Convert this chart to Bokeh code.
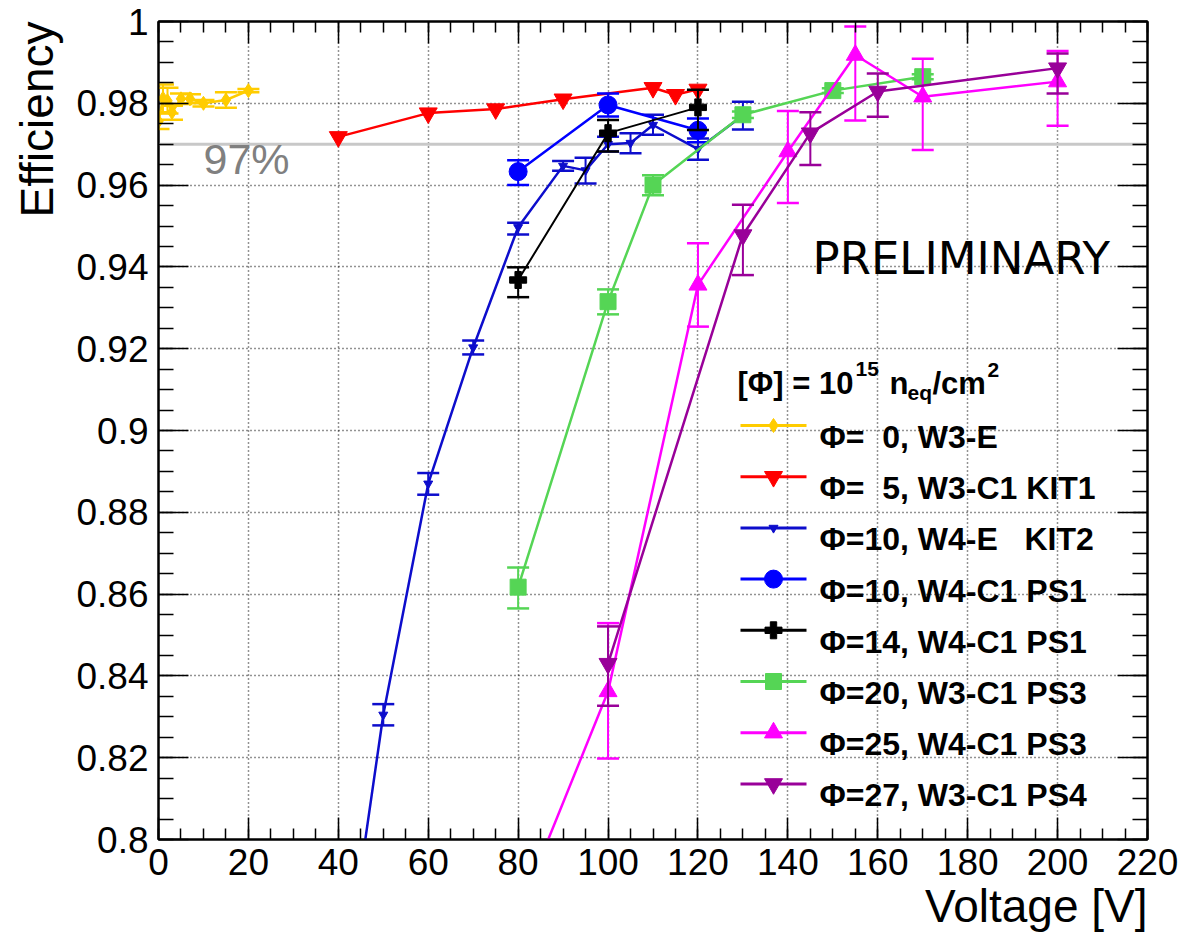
import math
from bokeh.plotting import figure
from bokeh.models import (Range1d, FixedTicker, CustomJSTickFormatter, LinearAxis,
                          Span, Label, Title, ColumnDataSource)
from bokeh.embed import file_html
from bokeh.resources import INLINE

# ---------------- data ----------------
v_phi0 = [0, 1, 2, 3, 5, 7, 10, 15, 20]
eff_phi0 = [0.9756, 0.9812, 0.9806, 0.9778, 0.9811, 0.9811, 0.9800, 0.9808, 0.9831]
lo_phi0 = [0.9737, 0.9778, 0.9775, 0.9760, 0.9798, 0.9800, 0.9792, 0.9789, 0.9827]
hi_phi0 = [0.9776, 0.9846, 0.9838, 0.9794, 0.9824, 0.9822, 0.9808, 0.9827, 0.9835]

v_phi5 = [40, 60, 75, 90, 110, 115, 120]
eff_phi5 = [0.9718, 0.9776, 0.9786, 0.9810, 0.9838, 0.9821, 0.9834]

v_kit2 = [40, 50, 60, 70, 80, 90, 95, 100, 105, 110, 120, 130]
eff_kit2 = [0.7542, 0.8305, 0.8870, 0.9203, 0.9497, 0.9647, 0.9636, 0.9700, 0.9703, 0.9747, 0.9688, 0.9770]
lo_kit2 = [0.7516, 0.8279, 0.8843, 0.9186, 0.9479, 0.9635, 0.9604, 0.9682, 0.9678, 0.9723, 0.9662, 0.9736]
hi_kit2 = [0.7568, 0.8331, 0.8896, 0.9220, 0.9508, 0.9659, 0.9667, 0.9718, 0.9727, 0.9772, 0.9714, 0.9804]

v_ps1a = [80, 100, 120]
eff_ps1a = [0.9633, 0.9796, 0.9734]
lo_ps1a = [0.9600, 0.9768, 0.9705]
hi_ps1a = [0.9661, 0.9824, 0.9763]

v_ps1b = [80, 100, 120]
eff_ps1b = [0.9368, 0.9727, 0.9790]
lo_ps1b = [0.9326, 0.9682, 0.9735]
hi_ps1b = [0.9399, 0.9759, 0.9833]

v_ps3a = [80, 100, 110, 130, 150, 170]
eff_ps3a = [0.8617, 0.9315, 0.9600, 0.9772, 0.9831, 0.9865]
lo_ps3a = [0.8565, 0.9284, 0.9575, 0.9764, 0.9825, 0.9859]
hi_ps3a = [0.8665, 0.9345, 0.9624, 0.9780, 0.9837, 0.9871]

v_ps3b = [80, 100, 120, 140, 155, 170, 200]
eff_ps3b = [0.7818, 0.8362, 0.9356, 0.9682, 0.9918, 0.9816, 0.9853]
lo_ps3b = [0.7650, 0.8198, 0.9254, 0.9556, 0.9758, 0.9686, 0.9745]
hi_ps3b = [0.7990, 0.8529, 0.9458, 0.9781, 0.9988, 0.9909, 0.9928]

v_ps4 = [100, 130, 145, 160, 200]
eff_ps4 = [0.8430, 0.9478, 0.9727, 0.9829, 0.9886]
lo_ps4 = [0.8327, 0.9380, 0.9649, 0.9767, 0.9824]
hi_ps4 = [0.8521, 0.9552, 0.9778, 0.9873, 0.9922]

legend_labels = ["Φ=\u00a0\u00a00, W3-E", "Φ=\u00a0\u00a05, W3-C1 KIT1",
                 "Φ=10, W4-E\u00a0\u00a0\u00a0KIT2", "Φ=10, W4-C1 PS1",
                 "Φ=14, W4-C1 PS1", "Φ=20, W3-C1 PS3", "Φ=25, W4-C1 PS3",
                 "Φ=27, W3-C1 PS4"]

x_ticks = list(range(0, 221, 20))
x_minor = [i * 5 for i in range(0, 45)]
y_ticks = [0.8 + 0.02 * i for i in range(11)]
y_minor = [0.8 + 0.005 * i for i in range(41)]
threshold = 0.97

# ---------------- layout ----------------
W, H = 1181, 937
LEFT, RIGHT, TOP, BOTTOM = 158, 34, 21, 98
X0, X1, Y0, Y1 = 0.0, 220.0, 0.8, 1.0
FW, FH = W - LEFT - RIGHT, H - TOP - BOTTOM


def sx(px):
    return X0 + (px - LEFT) / FW * (X1 - X0)


def sy(py):
    return Y0 + (H - BOTTOM - py) / FH * (Y1 - Y0)


FONT = "Liberation Sans"

p = figure(width=W, height=H, x_range=Range1d(X0, X1), y_range=Range1d(Y0, Y1),
           output_backend="svg", toolbar_location=None,
           min_border_left=LEFT, min_border_right=RIGHT,
           min_border_top=TOP, min_border_bottom=BOTTOM)
p.outline_line_color = "black"
p.outline_line_width = 2
p.background_fill_color = "white"
p.border_fill_color = "white"

xt = FixedTicker(ticks=x_ticks, minor_ticks=x_minor)
yt = FixedTicker(ticks=y_ticks, minor_ticks=y_minor)
yfmt = CustomJSTickFormatter(code="return (Math.round(tick*100)/100).toString();")
blank = CustomJSTickFormatter(code="return '';")

xa = p.xaxis[0]
xa.ticker = xt
xa.major_tick_in, xa.major_tick_out = 22, 0
xa.minor_tick_in, xa.minor_tick_out = 11, 0
xa.major_label_standoff = 9
xa.major_label_text_font = FONT
xa.major_label_text_font_size = "37px"
xa.major_label_text_color = "black"
xa.axis_line_width = 2
xa.major_tick_line_width = 1.5
xa.minor_tick_line_width = 1.5

ya = p.yaxis[0]
ya.ticker = yt
ya.formatter = yfmt
ya.major_tick_in, ya.major_tick_out = 30, 0
ya.minor_tick_in, ya.minor_tick_out = 15, 0
ya.major_label_standoff = 10
ya.major_label_text_font = FONT
ya.major_label_text_font_size = "37px"
ya.major_label_text_color = "black"
ya.axis_line_width = 2
ya.major_tick_line_width = 1.5
ya.minor_tick_line_width = 1.5

top_ax = LinearAxis(ticker=xt, formatter=blank, major_label_text_font_size="10px",
                    major_label_standoff=0,
                    major_tick_in=22, major_tick_out=0, minor_tick_in=11, minor_tick_out=0,
                    axis_line_width=2, major_tick_line_width=1.5, minor_tick_line_width=1.5)
right_ax = LinearAxis(ticker=yt, formatter=blank, major_label_text_font_size="10px",
                      major_label_standoff=0,
                      major_tick_in=30, major_tick_out=0, minor_tick_in=15, minor_tick_out=0,
                      axis_line_width=2, major_tick_line_width=1.5, minor_tick_line_width=1.5)
p.add_layout(top_ax, "above")
p.add_layout(right_ax, "right")

p.add_layout(Title(text="Voltage [V]", align="right", vertical_align="bottom", standoff=0, offset=0,
                   text_font=FONT, text_font_size="46px", text_font_style="normal",
                   text_color="black"), "below")
p.add_layout(Title(text="Efficiency", align="right", vertical_align="top", standoff=18, offset=0,
                   text_font=FONT, text_font_size="46px", text_font_style="normal",
                   text_color="black"), "left")

for g in (p.xgrid[0], p.ygrid[0]):
    g.grid_line_color = "black"
    g.grid_line_dash = "1 3"
    g.grid_line_width = 1.5
    g.grid_line_alpha = 0.85

p.add_layout(Span(location=threshold, dimension="width", line_color="#c8c8c8",
                  line_width=3, level="underlay"))

series = [
    dict(v=v_phi0, eff=eff_phi0, lo=lo_phi0, hi=hi_phi0, color="#ffcc00", marker="diamond", size=14, lw=2.5),
    dict(v=v_phi5, eff=eff_phi5, lo=None, hi=None, color="#ff0000", marker="inverted_triangle", size=18, lw=2.5),
    dict(v=v_kit2, eff=eff_kit2, lo=lo_kit2, hi=hi_kit2, color="#0d0dcc", marker="inverted_triangle", size=9, lw=2.5),
    dict(v=v_ps1a, eff=eff_ps1a, lo=lo_ps1a, hi=hi_ps1a, color="#0000ff", marker="circle", size=18, lw=2.5),
    dict(v=v_ps1b, eff=eff_ps1b, lo=lo_ps1b, hi=hi_ps1b, color="#000000", marker="plus", size=17, lw=2),
    dict(v=v_ps3a, eff=eff_ps3a, lo=lo_ps3a, hi=hi_ps3a, color="#55d555", marker="square", size=16, lw=2.5),
    dict(v=v_ps3b, eff=eff_ps3b, lo=lo_ps3b, hi=hi_ps3b, color="#ff00ff", marker="triangle", size=18, lw=2.5),
    dict(v=v_ps4, eff=eff_ps4, lo=lo_ps4, hi=hi_ps4, color="#990099", marker="inverted_triangle", size=18, lw=2.5),
]

for s in series:
    d = dict(v=s["v"], eff=s["eff"])
    if s["lo"] is not None:
        d["lo"], d["hi"] = s["lo"], s["hi"]
    src = ColumnDataSource(d)
    p.line("v", "eff", source=src, line_color=s["color"], line_width=s["lw"])
    if s["lo"] is not None:
        p.segment("v", "lo", "v", "hi", source=src, line_color=s["color"], line_width=2)
        p.scatter("v", "lo", source=src, marker="dash", size=22, line_color=s["color"], line_width=2.5)
        p.scatter("v", "hi", source=src, marker="dash", size=22, line_color=s["color"], line_width=2.5)
    p.scatter("v", "eff", source=src, marker=s["marker"], size=s["size"],
              fill_color=s["color"], line_color=s["color"])

# ---------------- legend (drawn manually) ----------------
row0_px, row_step_px = 425.0, 51.2
line_x0_px, line_x1_px, text_x_px = 740.0, 806.0, 819.0
for i, (s, lab) in enumerate(zip(series, legend_labels)):
    ypx = row0_px + i * row_step_px
    yy = sy(ypx)
    lsrc = ColumnDataSource(dict(x=[sx(line_x0_px), sx(line_x1_px)], y=[yy, yy]))
    p.line("x", "y", source=lsrc, line_color=s["color"], line_width=3)
    msrc = ColumnDataSource(dict(x=[sx((line_x0_px + line_x1_px) / 2)], y=[yy]))
    p.scatter("x", "y", source=msrc, marker=s["marker"], size=s["size"],
              fill_color=s["color"], line_color=s["color"])
    p.add_layout(Label(x=sx(text_x_px), y=sy(ypx + 11.5), text=lab, text_font=FONT,
                       text_font_style="bold", text_font_size="32px", text_color="black",
                       text_baseline="alphabetic"))

hdr_base = 383.0
for txt, xpx, ypx, fs in [("[Φ] = 10", 737, hdr_base, "31px"), ("15", 855, hdr_base - 15, "21px"),
                          ("n", 889, hdr_base, "31px"), ("eq", 907, hdr_base + 9, "21px"),
                          ("/cm", 932, hdr_base, "31px"), ("2", 987, hdr_base - 14, "21px")]:
    p.add_layout(Label(x=sx(xpx), y=sy(ypx), text=txt, text_font=FONT, text_font_style="bold",
                       text_font_size=fs, text_color="black", text_baseline="alphabetic"))

# ---------------- texts ----------------
p.add_layout(Label(x=sx(203), y=sy(158), text="97%", text_font=FONT, text_font_size="43px",
                   text_color="#808080", text_baseline="alphabetic"))
p.add_layout(Label(x=sx(812), y=sy(258), text="PRELIMINARY", text_font="DejaVu Sans",
                   text_font_size="45px", text_color="black", text_baseline="alphabetic"))

open("out.html", "w").write(file_html(p, INLINE))
